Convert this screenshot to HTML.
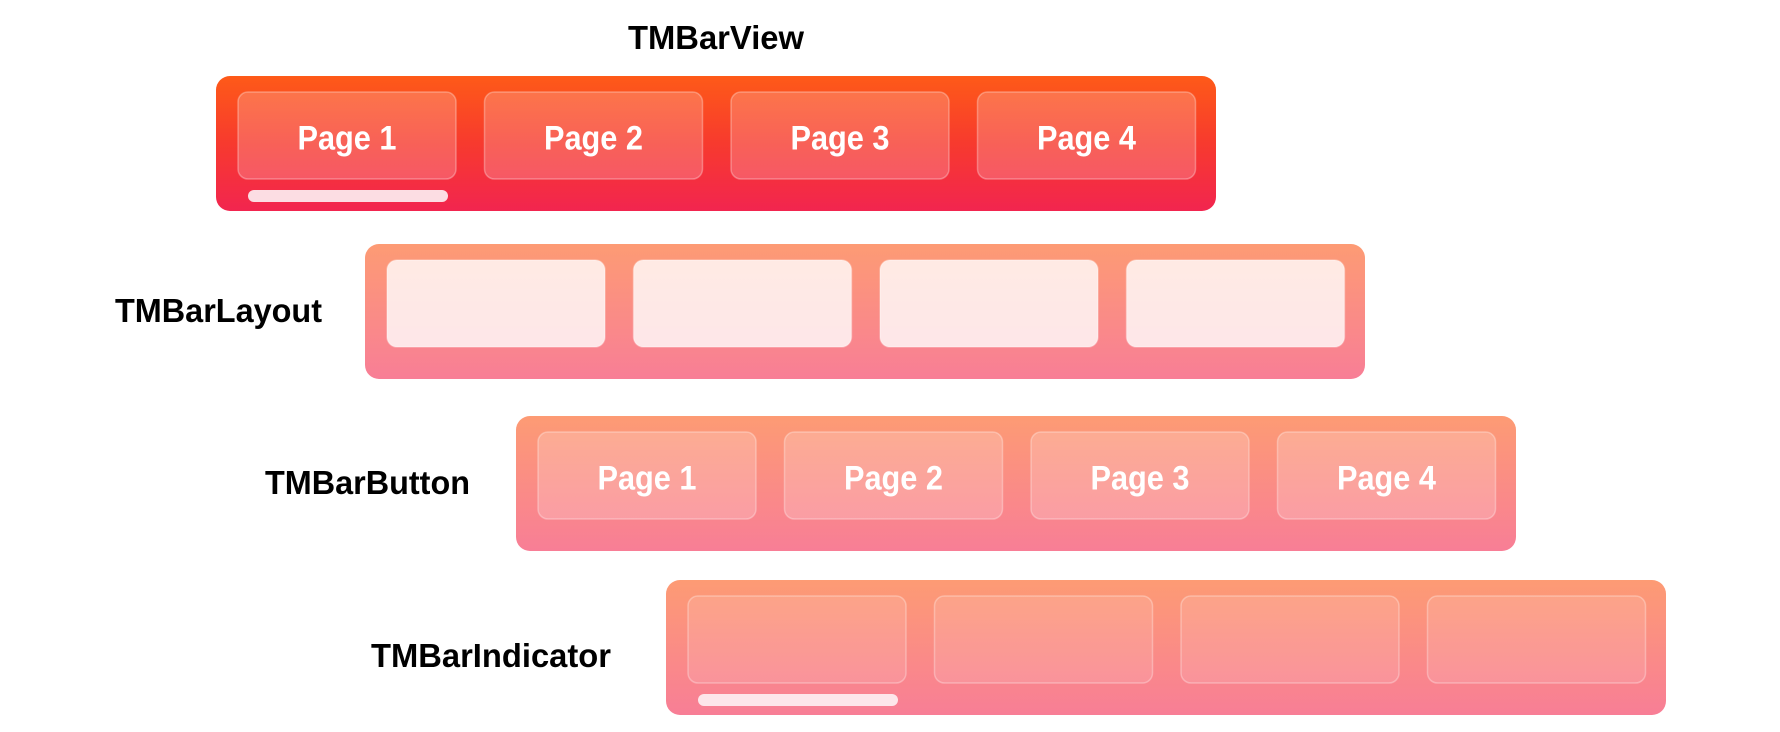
<!DOCTYPE html>
<html><head><meta charset="utf-8"><style>
html,body{margin:0;padding:0;background:#fff;width:1780px;height:732px;overflow:hidden}
svg{display:block}
text{font-family:"Liberation Sans",sans-serif;font-weight:bold}
</style></head><body>
<svg width="1780" height="732" viewBox="0 0 1780 732">
<defs>
<linearGradient id="g1" x1="0" y1="0" x2="0" y2="1">
<stop offset="0" stop-color="#fe5a18"/><stop offset="0.5" stop-color="#f73a2e"/><stop offset="1" stop-color="#f2254f"/></linearGradient>
<linearGradient id="g2" x1="0" y1="0" x2="0" y2="1">
<stop offset="0" stop-color="#fd9b74"/><stop offset="1" stop-color="#f87e96"/></linearGradient>
</defs>
<g id="root"></g>
</svg>
<script>
const rows = ["TMBarView","TMBarLayout","TMBarButton","TMBarIndicator"];
const pages = ["Page 1","Page 2","Page 3","Page 4"];
const ns="http://www.w3.org/2000/svg";
const root=document.getElementById('root');
function mk(tag,attrs,parent){const e=document.createElementNS(ns,tag);for(const k in attrs)e.setAttribute(k,attrs[k]);(parent||root).appendChild(e);return e;}
const barX=[216,365,516,666], barY=[76,244,416,580];
const barW=1000, barH=135;
const labels=[{x:716,y:49,a:"middle",w:176},{x:322,y:322,a:"end",w:207},{x:470,y:494,a:"end",w:205},{x:611,y:667,a:"end",w:240}];
const btnFill=["rgba(255,255,255,0.2)","rgba(255,255,255,0.8)","rgba(255,255,255,0.2)","rgba(255,255,255,0.12)"];
rows.forEach((name,r)=>{
  const g=mk('g',{});
  
  
  const bar=mk('rect',{x:barX[r],y:barY[r],width:barW,height:barH,rx:14,fill:r===0?'url(#g1)':'url(#g2)'},g);
  
  
  const L=labels[r];
  const t=mk('text',{x:L.x,y:L.y,'text-anchor':L.a,'font-size':33,fill:'#000',textLength:L.w,lengthAdjust:'spacingAndGlyphs'},g);
  t.textContent=name;
  
  
  pages.forEach((p,i)=>{
    const bx=barX[r]+22+i*246.5, by=barY[r]+16;
    const b=mk('rect',{x:bx,y:by,width:218,height:87,rx:10,fill:btnFill[r],stroke:'rgba(255,255,255,0.3)','stroke-width':1.5},g);
    
    
    if(r===0||r===2){
      const tt=mk('text',{x:bx+109,y:by+57.5,'text-anchor':'middle','font-size':34,fill:'#fff',textLength:99,lengthAdjust:'spacingAndGlyphs'},g);
      tt.textContent=p;
      
      
    }
  });
  if(r===0||r===3){
    const ind=mk('rect',{x:barX[r]+32,y:barY[r]+114,width:200,height:12,rx:6,fill:r===0?'#fcdde3':'#fde6ea'},g);
    
    
  }
});
</script>
</body></html>
